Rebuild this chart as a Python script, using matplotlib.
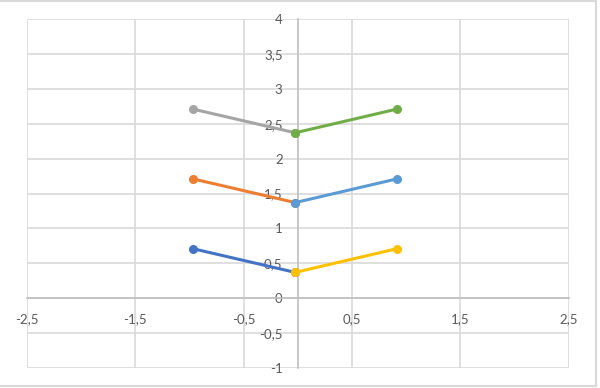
import matplotlib
matplotlib.use("Agg")
import matplotlib.pyplot as plt
from matplotlib.lines import Line2D

# series data (x, y), Excel default colour order
s1_x = [-0.97, -0.025]
s1_y = [0.71, 0.37]
s2_x = [-0.97, -0.025]
s2_y = [1.71, 1.37]
s3_x = [-0.97, -0.025]
s3_y = [2.71, 2.37]
s4_x = [-0.025, 0.915]
s4_y = [0.37, 0.71]
s5_x = [-0.025, 0.915]
s5_y = [1.37, 1.71]
s6_x = [-0.025, 0.915]
s6_y = [2.37, 2.71]

colors = ['#4472C4', '#ED7D31', '#A5A5A5', '#FFC000', '#5B9BD5', '#70AD47']

x_ticks = [-2.5, -1.5, -0.5, 0.5, 1.5, 2.5]
y_ticks = [-1, -0.5, 0, 0.5, 1, 1.5, 2, 2.5, 3, 3.5, 4]


def fmt(v):
    s = ('%g' % v).replace('.', ',')
    return s


plt.rcParams['font.family'] = ['Lato', 'DejaVu Sans']

fig = plt.figure(figsize=(6, 3.88), dpi=100)
ax = fig.add_axes([0.045, 0.0515, 0.903, 0.8995])

series = [(s1_x, s1_y), (s2_x, s2_y), (s3_x, s3_y),
          (s4_x, s4_y), (s5_x, s5_y), (s6_x, s6_y)]
for (xs, ys), c in zip(series, colors):
    ax.plot(xs, ys, color=c, lw=2.2, marker='o', ms=5.5,
            solid_capstyle='round', zorder=3)

ax.set_xlim(-2.5, 2.5)
ax.set_ylim(-1, 4)
ax.set_xticks(x_ticks)
ax.set_xticklabels([fmt(v) for v in x_ticks])
ax.set_yticks(y_ticks)
ax.set_yticklabels([fmt(v) for v in y_ticks])
ax.grid(True, color='#D9D9D9', lw=1.2, zorder=0)
ax.set_axisbelow(True)

for side in ['top', 'right']:
    ax.spines[side].set_visible(False)
ax.spines['left'].set_position(('data', 0))
ax.spines['bottom'].set_position(('data', 0))
ax.spines['left'].set_color('#BFBFBF')
ax.spines['bottom'].set_color('#BFBFBF')
ax.spines['left'].set_linewidth(1.2)
ax.spines['bottom'].set_linewidth(1.2)
ax.tick_params(length=0, labelsize=9.5, labelcolor='#595959')
ax.tick_params(axis='y', pad=11)
ax.tick_params(axis='x', pad=10.5)

# chart area border
bc = '#D9D9D9'
fig.add_artist(Line2D([0, 0.994], [0.997, 0.997], color=bc, lw=1.5))
fig.add_artist(Line2D([0.994, 0.994], [0.005, 0.997], color=bc, lw=1.5))
fig.add_artist(Line2D([0, 0.994], [0.005, 0.005], color=bc, lw=1.5))

fig.savefig('out.png', dpi=100)
